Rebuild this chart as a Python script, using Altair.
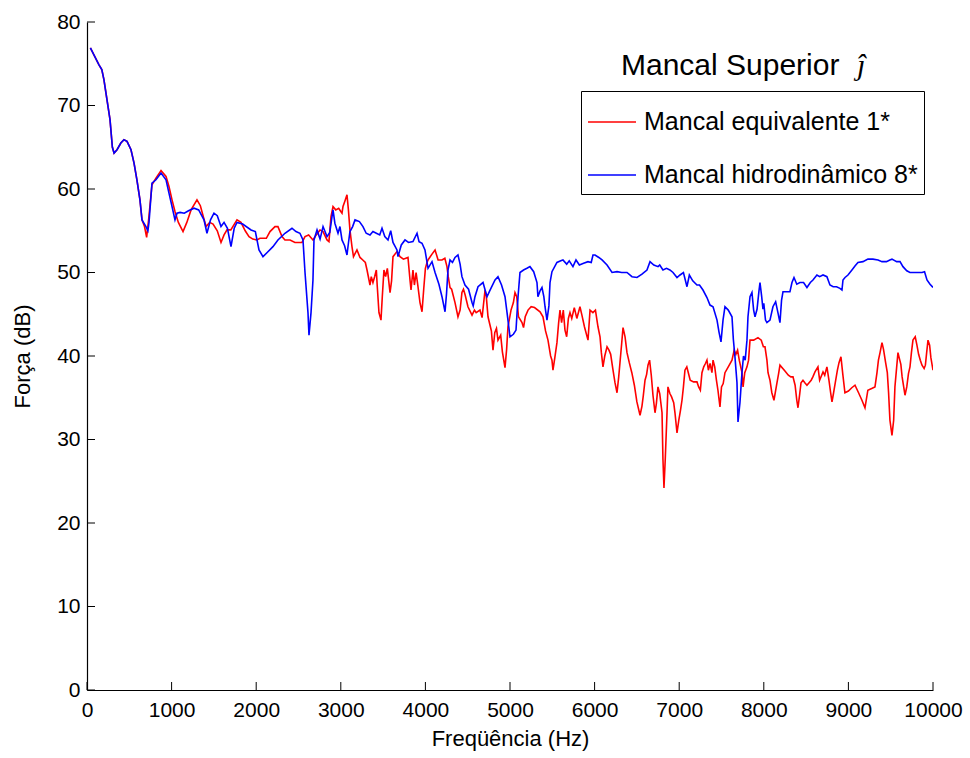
import altair as alt
import pandas as pd

# Series labels
serie_eq = "Mancal equivalente 1*"
serie_hd = "Mancal hidrodinâmico 8*"

# Mancal equivalente 1* : frequency (Hz) and force (dB)
freq_eq = [40, 140, 175, 200, 236, 272, 300, 320, 355, 400, 437, 473, 520, 556, 590, 626, 650,
           680, 705, 730, 768, 815, 875, 934, 969, 1005, 1040, 1080, 1135, 1180, 1230, 1300, 1340,
           1380, 1407, 1450, 1490, 1540, 1584, 1620, 1655, 1700, 1773, 1820, 1870, 1915, 1960, 2009,
           2045, 2080, 2120, 2163, 2222, 2257, 2305, 2340, 2400, 2458, 2541, 2577, 2620, 2671, 2710,
           2754, 2790, 2837, 2860, 2884, 2908, 2940, 2975, 3000, 3014, 3026, 3050, 3073, 3090, 3108,
           3132, 3150, 3191, 3227, 3260, 3290, 3310, 3345, 3360, 3380, 3400, 3420, 3430, 3451, 3475,
           3490, 3510, 3530, 3550, 3582, 3600, 3617, 3664, 3700, 3740, 3794, 3818, 3830, 3853, 3870,
           3890, 3910, 3936, 3960, 3980, 4000, 4019, 4031, 4078, 4114, 4150, 4196, 4230, 4255, 4270,
           4291, 4310, 4350, 4385, 4410, 4432, 4450, 4470, 4503, 4551, 4580, 4600, 4645, 4670, 4705,
           4720, 4740, 4780, 4799, 4820, 4840, 4858, 4890, 4910, 4941, 4960, 4976, 5012, 5040, 5059,
           5080, 5100, 5142, 5160, 5180, 5213, 5250, 5290, 5355, 5390, 5420, 5449, 5480, 5496, 5508,
           5530, 5555, 5575, 5591, 5610, 5630, 5650, 5670, 5690, 5709, 5730, 5760, 5790, 5827, 5850,
           5880, 5922, 5946, 5980, 6010, 6040, 6064, 6080, 6099, 6120, 6147, 6170, 6190, 6215, 6241,
           6265, 6285, 6300, 6320, 6336, 6360, 6383, 6410, 6440, 6470, 6500, 6537, 6560, 6575, 6596,
           6615, 6631, 6650, 6670, 6690, 6714, 6730, 6749, 6770, 6797, 6808, 6820, 6835, 6856, 6867,
           6890, 6910, 6935, 6950, 6974, 6995, 7015, 7033, 7050, 7068, 7090, 7110, 7130, 7170, 7210,
           7230, 7250, 7269, 7290, 7310, 7328, 7345, 7365, 7387, 7400, 7420, 7440, 7458, 7482, 7500,
           7520, 7541, 7580, 7624, 7650, 7670, 7690, 7710, 7742, 7755, 7775, 7801, 7820, 7837, 7880,
           7931, 7970, 7995, 8014, 8037, 8050, 8073, 8095, 8120, 8156, 8175, 8191, 8250, 8290, 8320,
           8345, 8370, 8390, 8404, 8425, 8440, 8463, 8485, 8510, 8560, 8580, 8605, 8640, 8660, 8700,
           8720, 8746, 8770, 8790, 8806, 8825, 8845, 8870, 8889, 8912, 8935, 8959, 9000, 9040, 9078,
           9120, 9160, 9196, 9230, 9275, 9314, 9338, 9355, 9374, 9397, 9415, 9440, 9460, 9475, 9491,
           9515, 9535, 9550, 9570, 9586, 9600, 9620, 9635, 9669, 9690, 9710, 9728, 9745, 9763, 9790,
           9810, 9830, 9850, 9870, 9895, 9910, 9925, 9941, 9960, 9975, 10000]
forca_eq = [76.9, 74.9, 74.3, 73.1, 70.7, 68.3, 65.0, 64.3, 64.7, 65.5, 65.9, 65.7, 64.7, 63.1, 61.1, 58.7, 56.3,
            55.5, 54.2, 56.5, 60.5, 61.3, 62.2, 61.5, 60.3, 58.7, 57.3, 56.0, 54.9, 56.0, 57.5, 58.7, 58.0,
            56.5, 55.5, 56.0, 55.8, 55.0, 53.6, 54.5, 55.1, 55.1, 56.3, 56.0, 55.0, 54.3, 54.0, 53.9,
            54.1, 54.1, 54.1, 54.9, 55.5, 55.5, 54.3, 53.9, 53.9, 53.6, 53.6, 54.3, 54.5, 53.9, 54.5,
            55.1, 54.9, 53.9, 53.7, 56.7, 57.9, 57.5, 57.7, 57.3, 57.1, 57.9, 58.6, 59.3, 57.5, 55.1,
            53.1, 51.9, 52.7, 51.8, 51.5, 51.2, 50.3, 48.5, 49.5, 48.8, 49.5, 50.3, 48.5, 45.2, 44.3,
            47.0, 50.3, 49.5, 50.5, 47.6, 49.0, 51.9, 52.5, 51.9, 51.6, 51.8, 49.1, 47.9, 50.3, 48.5,
            50.0, 48.5, 46.4, 45.3, 48.0, 50.5, 51.2, 51.5, 52.2, 52.7, 51.5, 51.5, 51.7, 50.7, 49.5,
            48.2, 48.0, 46.4, 44.7, 45.5, 47.6, 48.0, 47.3, 45.9, 44.9, 45.5, 45.2, 45.5, 44.6, 47.9,
            47.1, 44.7, 43.0, 40.7, 42.8, 43.3, 41.9, 42.5, 40.5, 38.6, 40.8, 43.5, 45.5, 46.4, 47.6,
            47.1, 44.7, 44.0, 43.4, 44.7, 45.5, 45.9, 45.8, 45.3, 44.7, 43.0, 41.9, 40.0, 39.5, 38.3,
            39.8, 41.6, 44.0, 45.5, 44.0, 45.5, 43.1, 42.3, 44.5, 45.2, 44.5, 45.8, 44.5, 45.9, 44.9,
            43.5, 41.9, 45.5, 45.2, 45.5, 43.5, 42.3, 40.4, 38.7, 40.0, 41.1, 40.7, 40.2, 38.5, 36.8,
            35.6, 37.5, 39.2, 41.5, 43.4, 42.3, 40.4, 39.2, 38.0, 36.5, 34.5, 32.9, 34.0, 35.2, 37.1,
            37.8, 38.9, 39.5, 37.7, 35.3, 33.2, 34.3, 36.3, 35.5, 33.2, 27.6, 24.2, 27.6, 33.2, 36.3,
            35.5, 35.1, 34.4, 33.2, 30.8, 32.3, 33.5, 34.7, 36.3, 38.3, 38.7, 37.9, 37.1, 36.9, 36.9,
            36.3, 35.9, 38.0, 38.7, 39.1, 39.5, 38.3, 39.1, 38.0, 39.5, 38.7, 37.1, 35.9, 33.9, 36.3,
            36.7, 38.0, 38.7, 39.5, 40.7, 40.2, 40.7, 39.5, 38.0, 36.3, 38.0, 38.7, 39.5, 41.9, 41.9,
            42.2, 41.9, 41.1, 41.1, 39.5, 38.0, 37.1, 35.6, 34.7, 36.8, 37.9, 38.9, 38.2, 37.7, 37.5,
            37.5, 36.5, 34.7, 33.8, 35.5, 36.8, 37.1, 36.8, 36.5, 37.1, 37.5, 38.1, 38.7, 37.1, 38.1,
            37.7, 38.7, 37.1, 35.6, 34.5, 35.6, 36.8, 38.3, 39.2, 39.9, 37.7, 35.6, 35.8, 36.2, 36.5,
            35.6, 34.7, 33.8, 35.9, 36.1, 36.3, 38.0, 39.5, 40.4, 41.6, 40.8, 39.2, 38.0, 35.6, 32.3,
            30.5, 32.3, 36.3, 38.6, 40.4, 39.8, 39.0, 37.5, 35.3, 36.3, 37.9, 38.7, 40.4, 41.9, 42.3,
            41.3, 40.2, 39.5, 38.9, 38.5, 38.9, 40.4, 41.9, 41.3, 39.8, 38.3]

# Mancal hidrodinâmico 8* : frequency (Hz) and force (dB)
freq_hd = [40, 140, 175, 200, 236, 272, 300, 320, 355, 400, 437, 473, 520, 556, 590, 626, 650,
           697, 720, 733, 768, 815, 875, 934, 969, 1005, 1040, 1064, 1100, 1150, 1200, 1265, 1320,
           1383, 1418, 1460, 1501, 1540, 1584, 1620, 1660, 1702, 1740, 1773, 1840, 1939, 1990, 2033,
           2080, 2130, 2198, 2257, 2340, 2423, 2470, 2517, 2553, 2577, 2612, 2624, 2648, 2671, 2683,
           2719, 2755, 2790, 2837, 2870, 2896, 2908, 2930, 2967, 2990, 3014, 3045, 3073, 3090, 3108,
           3140, 3168, 3220, 3262, 3300, 3345, 3380, 3420, 3460, 3487, 3520, 3558, 3590, 3617, 3664,
           3676, 3715, 3759, 3800, 3853, 3901, 3925, 3960, 3995, 4031, 4078, 4114, 4160, 4196, 4232,
           4250, 4267, 4291, 4320, 4350, 4385, 4410, 4432, 4468, 4510, 4551, 4565, 4586, 4622, 4681,
           4728, 4760, 4823, 4858, 4900, 4941, 4965, 5000, 5040, 5071, 5095, 5118, 5160, 5200, 5236,
           5280, 5319, 5330, 5355, 5378, 5400, 5414, 5437, 5460, 5473, 5496, 5555, 5600, 5626, 5670,
           5700, 5744, 5780, 5820, 5870, 5922, 5960, 5981, 6005, 6050, 6088, 6147, 6206, 6265, 6320,
           6383, 6442, 6501, 6560, 6619, 6655, 6700, 6750, 6770, 6808, 6850, 6890, 6927, 6974, 7010,
           7050, 7092, 7120, 7160, 7210, 7240, 7281, 7328, 7364, 7400, 7447, 7470, 7494, 7518, 7541,
           7580, 7624, 7640, 7659, 7683, 7695, 7718, 7742, 7760, 7780, 7801, 7813, 7837, 7860, 7880,
           7896, 7920, 7943, 7955, 7975, 7990, 8000, 8020, 8037, 8073, 8108, 8140, 8167, 8191, 8210,
           8227, 8270, 8309, 8333, 8357, 8390, 8427, 8470, 8510, 8550, 8581, 8628, 8660, 8700, 8746,
           8782, 8820, 8860, 8900, 8924, 8936, 8960, 8995, 9042, 9080, 9113, 9172, 9231, 9290, 9350,
           9397, 9450, 9490, 9515, 9570, 9610, 9645, 9690, 9728, 9780, 9830, 9870, 9900, 9929, 9965,
           10000]
forca_hd = [76.9, 74.9, 74.3, 73.1, 70.7, 68.3, 65.0, 64.3, 64.7, 65.5, 65.9, 65.7, 64.7, 63.1, 61.1, 58.7, 56.3,
            55.5, 55.0, 56.0, 60.7, 61.1, 61.9, 61.1, 59.5, 57.9, 56.3, 57.1, 57.2, 57.1, 57.4, 57.7, 57.5,
            56.3, 54.7, 56.3, 57.1, 56.8, 55.5, 56.0, 55.3, 53.1, 55.3, 56.0, 55.8, 55.1, 54.9, 52.7,
            51.9, 52.4, 53.1, 53.9, 54.7, 55.3, 54.9, 54.7, 53.9, 50.0, 45.2, 42.5, 45.2, 49.1, 53.9,
            55.1, 54.0, 55.5, 54.3, 54.8, 56.7, 57.5, 55.9, 54.7, 55.5, 53.9, 53.2, 52.1, 53.5, 54.9,
            55.5, 56.3, 56.1, 55.5, 54.7, 54.5, 54.9, 54.7, 54.5, 55.3, 54.3, 53.9, 55.0, 53.6, 52.7,
            51.9, 53.3, 53.9, 53.6, 53.7, 54.7, 53.7, 53.5, 52.7, 50.5, 51.3, 50.0, 48.6, 47.1, 45.3,
            47.5, 50.3, 51.5, 51.2, 51.8, 52.1, 51.0, 49.5, 48.5, 48.0, 46.4, 46.0, 47.1, 48.3, 48.8,
            47.1, 47.8, 49.1, 49.5, 48.5, 47.1, 45.2, 42.3, 42.6, 43.1, 47.1, 50.0, 50.3, 50.5, 50.7,
            50.1, 48.8, 47.1, 47.8, 48.2, 47.1, 45.9, 44.3, 46.0, 48.8, 50.1, 51.2, 51.4, 51.5, 51.0,
            51.4, 50.7, 51.5, 50.9, 51.1, 51.3, 51.2, 52.1, 52.1, 51.8, 51.5, 50.9, 50.0, 50.1, 50.0,
            50.0, 49.5, 49.4, 49.8, 50.3, 51.3, 50.9, 50.7, 50.9, 50.3, 50.5, 50.3, 50.0, 49.4, 49.7,
            50.0, 48.3, 49.7, 49.0, 48.5, 48.5, 47.9, 47.0, 46.1, 45.9, 44.3, 42.9, 41.7, 44.3, 45.9,
            45.5, 44.7, 42.0, 39.9, 36.8, 32.1, 34.4, 38.0, 40.0, 39.5, 41.9, 44.7, 47.1, 47.6, 45.5,
            44.7, 45.6, 47.8, 48.8, 47.1, 45.6, 46.3, 44.3, 44.0, 44.3, 45.9, 46.5, 45.2, 44.0, 46.7,
            47.7, 47.7, 47.7, 48.8, 49.4, 48.6, 48.8, 48.8, 48.2, 48.8, 49.1, 49.7, 49.5, 49.7, 49.5,
            48.5, 48.3, 48.3, 48.1, 47.9, 49.1, 49.4, 49.7, 50.3, 50.8, 51.2, 51.3, 51.6, 51.6, 51.5,
            51.3, 51.3, 51.5, 51.6, 51.3, 51.3, 50.7, 50.2, 50.0, 50.0, 50.0, 50.0, 50.1, 49.1, 48.6,
            48.2]

x_ticks = list(range(0, 10001, 1000))
y_ticks = list(range(0, 81, 10))

title_text = "Mancal Superior"
title_symbol = "ĵ"
x_title = "Freqüência (Hz)"
y_title = "Força (dB)"

df = pd.concat([
    pd.DataFrame({"freq": freq_eq, "forca": forca_eq, "serie": serie_eq}),
    pd.DataFrame({"freq": freq_hd, "forca": forca_hd, "serie": serie_hd}),
], ignore_index=True)

W, H = 846, 668
FONT = "Liberation Sans"

x_scale = alt.Scale(domain=[0, 10000], nice=False, zero=False)
y_scale = alt.Scale(domain=[0, 80], nice=False)

x_axis = alt.Axis(values=x_ticks, format="d", ticks=False, grid=False, labelFlush=False,
                  labelOverlap=False, labelFontSize=21, labelPadding=9,
                  titleFontSize=22, titlePadding=8)
y_axis = alt.Axis(values=y_ticks, format="d", ticks=False, grid=False, labelFlush=False,
                  labelFontSize=21, labelPadding=7, titleFontSize=22, titlePadding=22)

lines = alt.Chart(df).mark_line(strokeWidth=1.6, clip=True).encode(
    x=alt.X("freq:Q", scale=x_scale, axis=x_axis, title=x_title),
    y=alt.Y("forca:Q", scale=y_scale, axis=y_axis, title=y_title),
    color=alt.Color(
        "serie:N",
        scale=alt.Scale(domain=[serie_eq, serie_hd], range=["#ff0000", "#0000ff"]),
        legend=alt.Legend(
            title=None, orient="none", legendX=494, legendY=69,
            symbolType="stroke", symbolSize=2304, symbolStrokeWidth=1.5,
            labelFontSize=25, labelFont=FONT, labelColor="black", labelOffset=7,
            rowPadding=15, padding=6, strokeColor="black", fillColor="white",
            labelLimit=400,
        ),
    ),
)

# Inward tick marks on the bottom and left axes
x_tick_marks = alt.Chart(pd.DataFrame({"v": x_ticks})).mark_rule(color="black", strokeWidth=1).encode(
    x=alt.X("v:Q", scale=x_scale, title=x_title),
    y=alt.value(H),
    y2=alt.value(H - 8),
)
y_tick_marks = alt.Chart(pd.DataFrame({"v": y_ticks})).mark_rule(color="black", strokeWidth=1).encode(
    y=alt.Y("v:Q", scale=y_scale, title=y_title),
    x=alt.value(0),
    x2=alt.value(8),
)

title_main = alt.Chart(pd.DataFrame({"t": [title_text]})).mark_text(
    align="left", baseline="alphabetic", fontSize=30, font=FONT, color="black"
).encode(x=alt.value(534), y=alt.value(53), text="t:N")

title_j = alt.Chart(pd.DataFrame({"t": [title_symbol]})).mark_text(
    align="left", baseline="alphabetic", fontSize=30, font="Liberation Serif",
    fontStyle="italic", color="black"
).encode(x=alt.value(770), y=alt.value(53), text="t:N")

chart = alt.layer(lines, x_tick_marks, y_tick_marks, title_main, title_j).properties(
    width=W, height=H,
    padding={"left": 87, "top": 22, "right": 37, "bottom": 68},
    autosize=alt.AutoSizeParams(type="none"),
    background="white",
).configure_view(stroke=None).configure_axis(
    labelFont=FONT, titleFont=FONT, labelColor="black", titleColor="black",
    titleFontWeight="normal", domainColor="black", domainWidth=1.2,
)

chart.save("out.html", embed_options={"renderer": "svg", "actions": False})
